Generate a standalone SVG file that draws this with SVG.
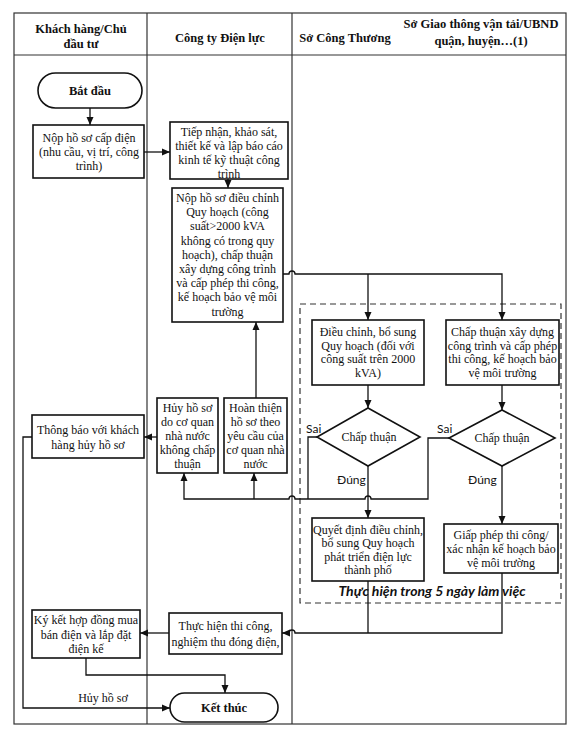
<svg xmlns="http://www.w3.org/2000/svg" width="574" height="735" viewBox="0 0 574 735">
<defs>
<marker id="ah" markerUnits="userSpaceOnUse" markerWidth="8" markerHeight="8" refX="8" refY="4" orient="auto">
<path d="M0,0.5 L8,4 L0,7.5 z" fill="#111"/>
</marker>
<style>
.bx{fill:#fff;stroke:#111;stroke-width:1.6}
.ln{fill:none;stroke:#111;stroke-width:1.3}
.fr{fill:none;stroke:#333;stroke-width:1.2}
.t{font-family:"Liberation Serif","Times New Roman",serif;font-size:12px;fill:#111;text-anchor:middle}
.h{font-family:"Liberation Serif","Times New Roman",serif;font-size:12.5px;font-weight:bold;fill:#111;text-anchor:middle}
.s{font-family:Lato,"Liberation Sans",sans-serif;font-size:12px;fill:#111}
.n{font-family:Lato,"Liberation Sans",sans-serif;font-size:14px;font-weight:bold;font-style:italic;fill:#111;text-anchor:middle}
</style>
</defs>
<rect width="574" height="735" fill="#fff"/>
<g id="frame">
<rect class="fr" x="14" y="13" width="552" height="711"/>
<line class="fr" x1="14" y1="55" x2="566" y2="55"/>
<line class="fr" x1="147" y1="13" x2="147" y2="724"/>
<line class="fr" x1="292" y1="13" x2="292" y2="724"/>
<text class="h" x="81" y="33">Khách hàng/Chủ</text>
<text class="h" x="81" y="48">đầu tư</text>
<text class="h" x="220" y="42">Công ty Điện lực</text>
<text class="h" x="345" y="42">Sở Công Thương</text>
<text class="h" x="481" y="28">Sở Giao thông vận tải/UBND</text>
<text class="h" x="481" y="45">quận, huyện…(1)</text>
</g>
<g id="group5days">
<rect x="300" y="304" width="261" height="299" fill="none" stroke="#333" stroke-width="1.2" stroke-dasharray="6,4"/>
<text class="n" x="432" y="596">Thực hiện trong 5 ngày làm việc</text>
</g>
<g id="connectors">
<path class="ln" d="M90,108 V125" marker-end="url(#ah)"/>
<path class="ln" d="M144,152 H170" marker-end="url(#ah)"/>
<path class="ln" d="M228,179 V188" marker-end="url(#ah)"/>
<path class="ln" d="M283,274 H289 A3,3 0 0 1 295,274 H502 V320" marker-end="url(#ah)"/>
<path class="ln" d="M368,274 V320" marker-end="url(#ah)"/>
<path class="ln" d="M368,385 V408" marker-end="url(#ah)"/>
<path class="ln" d="M502,385 V410" marker-end="url(#ah)"/>
<path class="ln" d="M368,466 V518" marker-end="url(#ah)"/>
<path class="ln" d="M502,466 V524" marker-end="url(#ah)"/>
<path class="ln" d="M317,437 H308 V499"/>
<path class="ln" d="M449,438 H428 V499 H371 A3,3 0 0 0 365,499 H295 A3,3 0 0 0 289,499 H184 V473" marker-end="url(#ah)"/>
<path class="ln" d="M254,499 V473" marker-end="url(#ah)"/>
<path class="ln" d="M256,398 V322" marker-end="url(#ah)"/>
<path class="ln" d="M157,437 H144" marker-end="url(#ah)"/>
<path class="ln" d="M32,437 H23 V708 H170" marker-end="url(#ah)"/>
<path class="ln" d="M368,581 V633"/>
<path class="ln" d="M502,573 V633 H295 A3,3 0 0 0 289,633 H282" marker-end="url(#ah)"/>
<path class="ln" d="M169,633 H140" marker-end="url(#ah)"/>
<path class="ln" d="M86,658 V675 H225 V693" marker-end="url(#ah)"/>
<text class="t" x="103" y="702">Hủy hồ sơ</text>
<text class="s" x="306" y="433">Sai</text>
<text class="s" x="437" y="433">Sai</text>
<text class="s" x="337" y="484">Đúng</text>
<text class="s" x="468" y="484">Đúng</text>
</g>
<g id="start">
<rect class="bx" x="38" y="73" width="104" height="35" rx="17.5"/>
<text class="h" x="90" y="95">Bắt đầu</text>
</g>
<g id="nop-ho-so">
<rect class="bx" x="33" y="125" width="111" height="53"/>
<text class="t" x="89" y="142">Nộp hồ sơ cấp điện</text>
<text class="t" x="89" y="156">(nhu cầu, vị trí, công</text>
<text class="t" x="89" y="170">trình)</text>
</g>
<g id="tiep-nhan">
<rect class="bx" x="170" y="122" width="118" height="57"/>
<text class="t" x="229" y="136">Tiếp nhận, khảo sát,</text>
<text class="t" x="229" y="150">thiết kế và lập báo cáo</text>
<text class="t" x="229" y="164">kinh tế kỹ thuật công</text>
<text class="t" x="229" y="178">trình</text>
</g>
<g id="nop-dieu-chinh">
<rect class="bx" x="172" y="188" width="111" height="134"/>
<text class="t" x="227.5" y="202">Nộp hồ sơ điều chỉnh</text>
<text class="t" x="227.5" y="216.2">Quy hoạch (công</text>
<text class="t" x="227.5" y="230.4">suất&gt;2000 kVA</text>
<text class="t" x="227.5" y="244.6">không có trong quy</text>
<text class="t" x="227.5" y="258.8">hoạch), chấp thuận</text>
<text class="t" x="227.5" y="273">xây dựng công trình</text>
<text class="t" x="227.5" y="287.2">và cấp phép thi công,</text>
<text class="t" x="227.5" y="301.4">kế hoạch bảo vệ môi</text>
<text class="t" x="227.5" y="315.6">trường</text>
</g>
<g id="dieu-chinh-qh">
<rect class="bx" x="312" y="320" width="112" height="65"/>
<text class="t" x="368" y="336">Điều chỉnh, bổ sung</text>
<text class="t" x="368" y="350">Quy hoạch (đối với</text>
<text class="t" x="368" y="363">công suất trên 2000</text>
<text class="t" x="368" y="377">kVA)</text>
</g>
<g id="chap-thuan-xd">
<rect class="bx" x="446" y="320" width="113" height="65"/>
<text class="t" x="502.5" y="336">Chấp thuận xây dựng</text>
<text class="t" x="502.5" y="350">công trình và cấp phép</text>
<text class="t" x="502.5" y="363">thi công, kế hoạch bảo</text>
<text class="t" x="502.5" y="377">vệ môi trường</text>
</g>
<g id="dec1">
<polygon class="bx" points="368,408 420,437 368,466 317,437"/>
<text class="t" x="369" y="441">Chấp thuận</text>
</g>
<g id="dec2">
<polygon class="bx" points="502,410 555,438 502,466 449,438"/>
<text class="t" x="502" y="442">Chấp thuận</text>
</g>
<g id="huy-ho-so">
<rect class="bx" x="157" y="398" width="61" height="75"/>
<text class="t" x="187.5" y="412">Hủy hồ sơ</text>
<text class="t" x="187.5" y="426">do cơ quan</text>
<text class="t" x="187.5" y="440">nhà nước</text>
<text class="t" x="187.5" y="454">không chấp</text>
<text class="t" x="187.5" y="468">thuận</text>
</g>
<g id="hoan-thien">
<rect class="bx" x="224" y="398" width="63" height="75"/>
<text class="t" x="255.5" y="412">Hoàn thiện</text>
<text class="t" x="255.5" y="426">hồ sơ theo</text>
<text class="t" x="255.5" y="440">yêu cầu của</text>
<text class="t" x="255.5" y="454">cơ quan nhà</text>
<text class="t" x="255.5" y="468">nước</text>
</g>
<g id="thong-bao">
<rect class="bx" x="32" y="415" width="112" height="43"/>
<text class="t" x="88" y="434">Thông báo với khách</text>
<text class="t" x="88" y="449">hàng hủy hồ sơ</text>
</g>
<g id="quyet-dinh">
<rect class="bx" x="312" y="518" width="112" height="63"/>
<text class="t" x="368" y="534">Quyết định điều chỉnh,</text>
<text class="t" x="368" y="547">bổ sung Quy hoạch</text>
<text class="t" x="368" y="561">phát triển điện lực</text>
<text class="t" x="368" y="574">thành phố</text>
</g>
<g id="giay-phep">
<rect class="bx" x="444" y="524" width="114" height="49"/>
<text class="t" x="501" y="539">Giấp phép thi công/</text>
<text class="t" x="501" y="553">xác nhận kế hoạch bảo</text>
<text class="t" x="501" y="567">vệ môi trường</text>
</g>
<g id="thuc-hien">
<rect class="bx" x="169" y="613" width="113" height="41"/>
<text class="t" x="225.5" y="630">Thực hiện thi công,</text>
<text class="t" x="225.5" y="646">nghiệm thu đóng điện,</text>
</g>
<g id="ky-ket">
<rect class="bx" x="32" y="610" width="108" height="48"/>
<text class="t" x="86" y="624">Ký kết hợp đồng mua</text>
<text class="t" x="86" y="639">bán điện và lắp đặt</text>
<text class="t" x="86" y="653">điện kế</text>
</g>
<g id="end">
<rect class="bx" x="170" y="693" width="108" height="29" rx="14.5"/>
<text class="h" x="224" y="712">Kết thúc</text>
</g>
</svg>
